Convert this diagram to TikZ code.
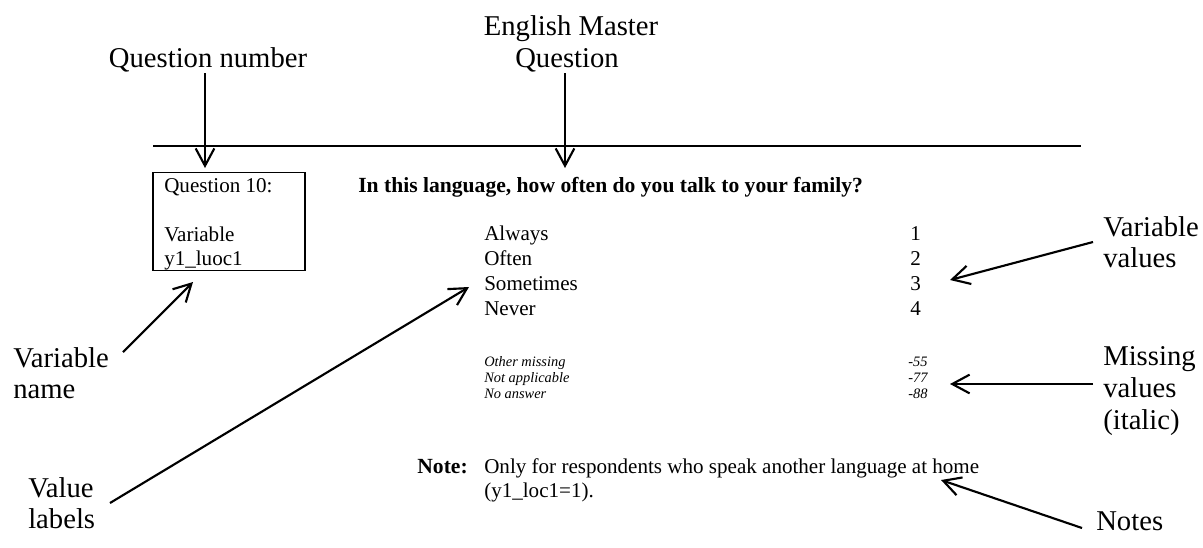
\documentclass[tikz,border=0pt]{standalone}
\usepackage{fontspec}
\setmainfont{Liberation Serif}
\usetikzlibrary{arrows.meta}
\begin{document}
\begin{tikzpicture}[x=0.75pt,y=-0.75pt,
  lbl/.style={inner sep=0pt,font=\fontsize{21.5}{24}\selectfont},
  body/.style={inner sep=0pt,anchor=base west,font=\fontsize{15.8}{18.75}\selectfont},
  bodyb/.style={body,font=\fontsize{16.2}{18.75}\selectfont\bfseries},
  miss/.style={inner sep=0pt,anchor=base west,font=\fontsize{10.8}{12}\selectfont\itshape},
  arr/.style={line width=1.6pt,-{Straight Barb[length=13pt,width=14pt,line width=1.6pt]}}]
\useasboundingbox (0,0) rectangle (1203,547);
% top rule
\coordinate (rl) at (153,146);
\coordinate (rr) at (1081,146);
\draw[line width=1pt] (rl) -- (rr);
% box
\node[draw,line width=0.9pt,minimum width=114pt,minimum height=74pt,inner sep=0pt] (box) at (229,221.5) {};
\node[body] (q10) at (164,192) {Question 10:};
\node[body] (var) at (164,241) {Variable};
\node[body] (vname) at (164,265) {y1\_luoc1};
% question
\node[bodyb] (quest) at (358,192) {In this language, how often do you talk to your family?};
% value labels
\node[body] (v1) at (484,240) {Always};
\node[body] (v2) at (484,265) {Often};
\node[body] (v3) at (484,290) {Sometimes};
\node[body] (v4) at (484,315) {Never};
\node[body] (n1) at (910,240) {1};
\node[body] (n2) at (910,265) {2};
\node[body] (n3) at (910,290) {3};
\node[body] (n4) at (910,315) {4};
% missing
\node[miss] (m1) at (484,366) {Other missing};
\node[miss] (m2) at (484,382) {Not applicable};
\node[miss] (m3) at (484,398) {No answer};
\node[miss] (mn1) at (908,366) {-55};
\node[miss] (mn2) at (908,382) {-77};
\node[miss] (mn3) at (908,398) {-88};
% note
\node[bodyb,anchor=base east] (notek) at (468,473) {Note:};
\node[body] (note1) at (484,473) {Only for respondents who speak another language at home};
\node[body] (note2) at (484,497) {(y1\_loc1=1).};
% annotation labels
\node[lbl,anchor=base] (qn) at (208,67) {Question number};
\node[lbl,anchor=base] (em1) at (571,35) {English Master};
\node[lbl,anchor=base] (em2) at (567,67) {Question};
\node[lbl,anchor=base west] (vv1) at (1103,236) {Variable};
\node[lbl,anchor=base west] (vv2) at (1103,267) {values};
\node[lbl,anchor=base west] (mv1) at (1103,365) {Missing};
\node[lbl,anchor=base west] (mv2) at (1103,397) {values};
\node[lbl,anchor=base west] (mv3) at (1103,429) {(italic)};
\node[lbl,anchor=base west] (vn1) at (13,367) {Variable};
\node[lbl,anchor=base west] (vn2) at (13,398) {name};
\node[lbl,anchor=base west] (vl1) at (28,497) {Value};
\node[lbl,anchor=base west] (vl2) at (28,528) {labels};
\node[lbl,anchor=base west] (nt) at (1096,530) {Notes};
% arrow ends
\coordinate (a1s) at (205,73);  \coordinate (a1e) at (205,168);
\coordinate (a2s) at (565,73);  \coordinate (a2e) at (565,168);
\coordinate (a3s) at (123,352); \coordinate (a3e) at (193,282);
\coordinate (a4s) at (110,503); \coordinate (a4e) at (469,287);
\coordinate (a5s) at (1093,242);\coordinate (a5e) at (950,280);
\coordinate (a6s) at (1093,384);\coordinate (a6e) at (950,384);
\coordinate (a7s) at (1082,528);\coordinate (a7e) at (941,480);
\draw[arr] (a1s) -- (a1e);
\draw[arr] (a2s) -- (a2e);
\draw[arr] (a3s) -- (a3e);
\draw[arr] (a4s) -- (a4e);
\draw[arr] (a5s) -- (a5e);
\draw[arr] (a6s) -- (a6e);
\draw[arr] (a7s) -- (a7e);
\end{tikzpicture}
\end{document}
